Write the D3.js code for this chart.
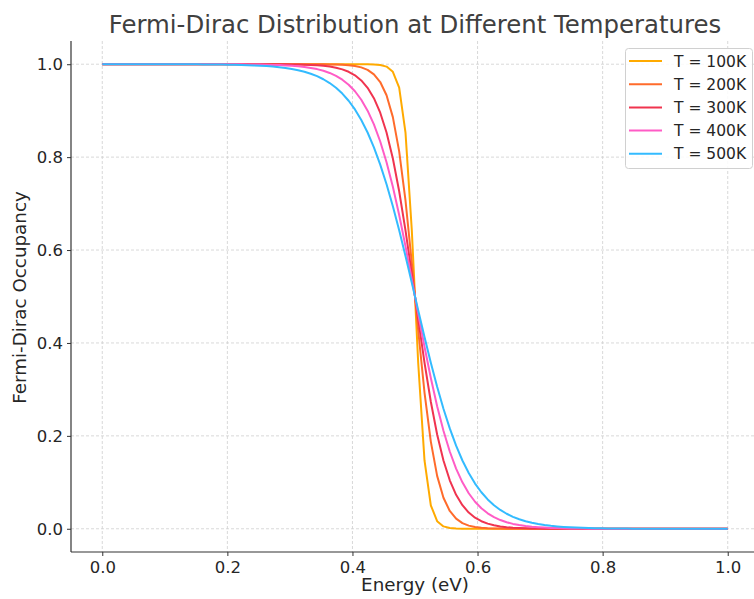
<!DOCTYPE html>
<html>
<head>
<meta charset="utf-8">
<script src="https://cdn.jsdelivr.net/npm/d3@7"></script>
<style>
html,body{margin:0;padding:0;background:#fff;}
svg{display:block;font-family:"DejaVu Sans",sans-serif;}
</style>
</head>
<body>
<svg id="chart" width="754" height="599"></svg>
<script>
const energy = [
0,0.0101,0.0202,0.0303,0.0404,0.0505,0.0606,0.0707,0.0808,0.0909,
0.1010,0.1111,0.1212,0.1313,0.1414,0.1515,0.1616,0.1717,0.1818,0.1919,
0.2020,0.2121,0.2222,0.2323,0.2424,0.2525,0.2626,0.2727,0.2828,0.2929,
0.3030,0.3131,0.3232,0.3333,0.3434,0.3535,0.3636,0.3737,0.3838,0.3939,
0.4040,0.4141,0.4242,0.4343,0.4444,0.4545,0.4646,0.4747,0.4848,0.4949,
0.5051,0.5152,0.5253,0.5354,0.5455,0.5556,0.5657,0.5758,0.5859,0.5960,
0.6061,0.6162,0.6263,0.6364,0.6465,0.6566,0.6667,0.6768,0.6869,0.6970,
0.7071,0.7172,0.7273,0.7374,0.7475,0.7576,0.7677,0.7778,0.7879,0.7980,
0.8081,0.8182,0.8283,0.8384,0.8485,0.8586,0.8687,0.8788,0.8889,0.8990,
0.9091,0.9192,0.9293,0.9394,0.9495,0.9596,0.9697,0.9798,0.9899,1.0];

const occ100 = [
1,1,1,1,1,1,1,1,1,1,
1,1,1,1,1,1,1,1,1,1,
1,1,1,1,1,1,1,1,1,1,
1,1,1,1,1,1,1,1,1,1,
1,1,0.9998,0.9995,0.9984,0.9949,0.9837,0.9494,0.8530,0.6425,
0.3575,0.1470,0.0506,0.0163,0.0051,0.0016,0.0005,0.0002,0,0,
0,0,0,0,0,0,0,0,0,0,
0,0,0,0,0,0,0,0,0,0,
0,0,0,0,0,0,0,0,0,0,
0,0,0,0,0,0,0,0,0,0];

const occ200 = [
1,1,1,1,1,1,1,1,1,1,
1,1,1,1,1,1,1,1,1,1,
1,1,1,1,1,1,1,1,1,1,
1,1,1,0.9999,0.9999,0.9998,0.9996,0.9993,0.9988,0.9979,
0.9962,0.9932,0.9878,0.9783,0.9617,0.9332,0.8861,0.8123,0.7067,0.5727,
0.4273,0.2933,0.1877,0.1139,0.0668,0.0383,0.0217,0.0122,0.0068,0.0038,
0.0021,0.0012,0.0007,0.0004,0.0002,0.0001,0.0001,0,0,0,
0,0,0,0,0,0,0,0,0,0,
0,0,0,0,0,0,0,0,0,0,
0,0,0,0,0,0,0,0,0,0];

const occ300 = [
1,1,1,1,1,1,1,1,1,1,
1,1,1,1,1,1,1,1,1,1,
1,1,1,1,1,0.9999,0.9999,0.9998,0.9998,0.9997,
0.9995,0.9993,0.9989,0.9984,0.9977,0.9965,0.9949,0.9925,0.9889,0.9837,
0.9761,0.9651,0.9493,0.9269,0.8956,0.8530,0.7970,0.7265,0.6425,0.5487,
0.4513,0.3575,0.2735,0.2030,0.1470,0.1044,0.0731,0.0507,0.0349,0.0239,
0.0163,0.0111,0.0075,0.0051,0.0035,0.0023,0.0016,0.0011,0.0007,0.0005,
0.0003,0.0002,0.0002,0.0001,0.0001,0,0,0,0,0,
0,0,0,0,0,0,0,0,0,0,
0,0,0,0,0,0,0,0,0,0];

const occ400 = [
1,1,1,1,1,1,1,1,1,1,
1,1,1,1,1,1,0.9999,0.9999,0.9999,0.9999,
0.9998,0.9998,0.9997,0.9996,0.9994,0.9992,0.9990,0.9986,0.9982,0.9975,
0.9967,0.9956,0.9941,0.9921,0.9895,0.9859,0.9812,0.9750,0.9667,0.9559,
0.9418,0.9235,0.9001,0.8704,0.8336,0.7890,0.7361,0.6753,0.6082,0.5366,
0.4634,0.3918,0.3247,0.2639,0.2110,0.1664,0.1296,0.0999,0.0765,0.0582,
0.0441,0.0333,0.0250,0.0188,0.0141,0.0105,0.0079,0.0059,0.0044,0.0033,
0.0025,0.0018,0.0014,0.0010,0.0008,0.0006,0.0004,0.0003,0.0002,0.0002,
0.0001,0.0001,0.0001,0.0001,0,0,0,0,0,0,
0,0,0,0,0,0,0,0,0,0];

const occ500 = [
1,1,1,1,1,1,1,1,0.9999,0.9999,
0.9999,0.9999,0.9998,0.9998,0.9998,0.9997,0.9996,0.9995,0.9994,0.9992,
0.9990,0.9987,0.9984,0.9980,0.9975,0.9968,0.9960,0.9949,0.9936,0.9919,
0.9898,0.9871,0.9837,0.9795,0.9743,0.9677,0.9595,0.9493,0.9368,0.9214,
0.9027,0.8800,0.8530,0.8211,0.7840,0.7417,0.6943,0.6425,0.5870,0.5293,
0.4707,0.4130,0.3575,0.3057,0.2583,0.2160,0.1789,0.1470,0.1200,0.0973,
0.0786,0.0632,0.0507,0.0405,0.0323,0.0257,0.0205,0.0163,0.0129,0.0102,
0.0081,0.0064,0.0051,0.0040,0.0032,0.0025,0.0020,0.0016,0.0013,0.0010,
0.0008,0.0006,0.0005,0.0004,0.0003,0.0002,0.0002,0.0002,0.0001,0.0001,
0.0001,0.0001,0,0,0,0,0,0,0,0];

const seriesLabels = ["T = 100K","T = 200K","T = 300K","T = 400K","T = 500K"];
const seriesValues = [occ100, occ200, occ300, occ400, occ500];
const seriesColors = ["#FFAA00","#FF6B2B","#F0344F","#FF5CC6","#33BBFF"];
const xTicks = [0,0.2,0.4,0.6,0.8,1.0];
const yTicks = [0,0.2,0.4,0.6,0.8,1.0];
const titleText = "Fermi-Dirac Distribution at Different Temperatures";
const xLabel = "Energy (eV)";
const yLabel = "Fermi-Dirac Occupancy";

const svg = d3.select("#chart");
const L = 71, R = 759, T = 41, B = 552;
const x = d3.scaleLinear().domain([-0.05, 1.05]).range([L, R]);
const y = d3.scaleLinear().domain([-0.05, 1.05]).range([B, T]);

// grid
const grid = svg.append("g");
grid.selectAll("line.gx").data(xTicks).join("line")
  .attr("x1", d => x(d)).attr("x2", d => x(d)).attr("y1", T).attr("y2", B)
  .attr("stroke", "#cfcfcf").attr("stroke-width", 0.8).attr("stroke-dasharray", "3,2");
grid.selectAll("line.gy").data(yTicks).join("line")
  .attr("y1", d => y(d)).attr("y2", d => y(d)).attr("x1", L).attr("x2", R)
  .attr("stroke", "#cfcfcf").attr("stroke-width", 0.8).attr("stroke-dasharray", "3,2");

// lines
const line = d3.line().x((d, i) => x(energy[i])).y(d => y(d));
svg.append("g").selectAll("path").data(seriesValues).join("path")
  .attr("d", d => line(d)).attr("fill", "none")
  .attr("stroke", (d, i) => seriesColors[i]).attr("stroke-width", 2)
  .attr("stroke-linejoin", "round");

// axes
const xAxis = svg.append("g").attr("transform", `translate(0,${B})`)
  .call(d3.axisBottom(x).tickValues(xTicks).tickFormat(d3.format(".1f")).tickSizeOuter(0).tickSize(4).tickPadding(5));
const yAxis = svg.append("g").attr("transform", `translate(${L},0)`)
  .call(d3.axisLeft(y).tickValues(yTicks).tickFormat(d3.format(".1f")).tickSizeOuter(0).tickSize(4).tickPadding(4));
[xAxis, yAxis].forEach(a => {
  a.select(".domain").attr("stroke", "#333").attr("stroke-width", 1.2);
  a.selectAll(".tick line").attr("stroke", "#333");
  a.selectAll(".tick text").attr("fill", "#262626").style("font-size", "16.5px").style("font-family", "DejaVu Sans");
});
xAxis.select(".domain").attr("d", `M${L},0H${R}`);
yAxis.select(".domain").attr("d", `M0,${B}V${T}`);

// labels
svg.append("text").attr("x", 415).attr("y", 33).attr("text-anchor", "middle")
  .attr("fill", "#404040").style("font-size", "24.4px").text(titleText);
svg.append("text").attr("x", 415).attr("y", 591).attr("text-anchor", "middle")
  .attr("fill", "#262626").style("font-size", "18.3px").text(xLabel);
svg.append("text").attr("transform", `translate(26,${(T + B) / 2 + 1}) rotate(-90)`).attr("text-anchor", "middle")
  .attr("fill", "#262626").style("font-size", "18.3px").text(yLabel);

// legend
const lg = svg.append("g");
lg.append("rect").attr("x", 625.5).attr("y", 48.5).attr("width", 127).attr("height", 120)
  .attr("rx", 3).attr("fill", "#fff").attr("fill-opacity", 0.85).attr("stroke", "#d0d0d0");
const items = lg.selectAll("g.item").data(seriesLabels).join("g")
  .attr("transform", (d, i) => `translate(0,${61 + i * 23.2})`);
items.append("line").attr("x1", 629).attr("x2", 662).attr("y1", 0).attr("y2", 0)
  .attr("stroke", (d, i) => seriesColors[i]).attr("stroke-width", 2);
items.append("text").attr("x", 674).attr("y", 0).attr("dy", "0.36em")
  .attr("fill", "#262626").style("font-size", "15.5px").text(d => d);
</script>
</body>
</html>
